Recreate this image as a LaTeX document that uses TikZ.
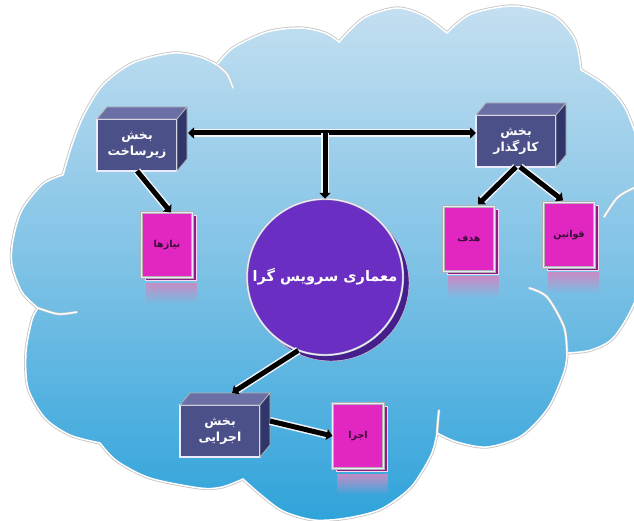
\documentclass[tikz,border=0pt]{standalone}
\usepackage{fontspec}
\usetikzlibrary{positioning,calc,arrows.meta,shadows,fadings}
\newfontfamily\fafont[Script=Arabic]{DejaVu Sans}
\TeXXeTstate=1
\newcommand{\fa}[1]{\beginR #1\endR}

\definecolor{cloudtop}{HTML}{C4DFF0}
\definecolor{cloudmid}{HTML}{7FC2E6}
\definecolor{cloudbot}{HTML}{2FA3DA}
\definecolor{navyfront}{HTML}{4B5089}
\definecolor{navytop}{HTML}{6A6FA6}
\definecolor{navyside}{HTML}{30356A}
\definecolor{magfront}{HTML}{E226C1}
\definecolor{magside}{HTML}{8C1C86}
\definecolor{magtext}{HTML}{3A0C38}
\definecolor{soafront}{HTML}{6A2EC2}
\definecolor{soarim}{HTML}{45208C}
\definecolor{glow}{HTML}{F2F4FA}

\begin{document}
\begin{tikzpicture}[
    x=1pt, y=-1pt,
    cloud/.style={top color=cloudtop, bottom color=cloudbot, middle color=cloudmid,
        draw=white, line width=1.5pt, preaction={draw=gray!45, line width=3.2pt}},
    rimline/.style={draw=white, line width=1.4pt, line cap=round,
        preaction={draw=gray!40, line width=2.6pt}},
    frame/.style={draw=gray!60, double=white!92!blue, double distance=1.3pt, line width=0.4pt},
    section/.style={frame, fill=navyfront, text=white, align=center, outer sep=0pt,
        minimum width=80pt, minimum height=52pt, inner sep=2pt,
        font=\fafont\bfseries\fontsize{12.5}{16}\selectfont},
    face/.style={draw=gray!60, line width=0.8pt},
    item/.style={frame, fill=magfront, text=magtext, outer sep=0pt,
        minimum width=51pt, minimum height=65pt, inner sep=1pt,
        font=\fafont\bfseries\fontsize{9.5}{11}\selectfont,
        copy shadow={shadow xshift=4pt, shadow yshift=-3pt, fill=magside, draw=white!85!magenta}},
    soa/.style={frame, circle, fill=soafront, text=white, minimum size=156pt, inner sep=0pt,
        font=\fafont\bfseries\fontsize{14.5}{17}\selectfont,
        copy shadow={shadow xshift=6pt, shadow yshift=-6pt, fill=soarim, draw=white!80!purple}},
    reflect/.style={fill=violet!45!white, path fading=south},
    conn/.style={line width=5pt, draw=black, preaction={draw=glow, line width=8pt}},
    tip/.style={-{Triangle[length=6pt,width=11pt]}}
]
    \useasboundingbox (0,0) rectangle (634,521);
    \fill[white] (0,0) rectangle (634,521);
    \clip (0,0) rectangle (634,521);

    % Cloud
    \path[cloud] plot[smooth] coordinates {(38,308) (22,292) (12,265) (13,240) (22,210) (43,184) (63,175)}
        -- plot[smooth] coordinates {(63,175) (72,145) (84,115) (103,85) (133,63) (173,53) (200,57) (217,65)}
        -- plot[smooth] coordinates {(217,65) (233,48) (267,32) (300,28) (325,33) (339,42)}
        -- plot[smooth] coordinates {(339,42) (364,18) (397,8) (424,16) (447,33)}
        -- plot[smooth] coordinates {(447,33) (471,14) (514,6) (554,16) (575,40) (581,70)}
        -- plot[smooth] coordinates {(581,70) (606,86) (626,110) (644,165) (648,235) (636,298) (614,337) (591,350) (567,353)}
        -- plot[smooth] coordinates {(567,353) (564,372) (548,408) (521,436) (487,447) (457,442) (437,433)}
        -- plot[smooth] coordinates {(437,433) (431,455) (411,487) (381,509) (347,518) (314,520) (283,511) (260,494) (243,479)}
        -- plot[smooth] coordinates {(243,479) (222,487) (200,488) (150,478) (117,461) (100,443)}
        -- plot[smooth] coordinates {(100,443) (70,435) (45,418) (28,388) (26,352) (32,320) (38,308)}
        -- cycle;
    \draw[rimline] plot[smooth] coordinates {(217,65) (227,74) (233,88)};
    \draw[rimline] plot[smooth] coordinates {(38,308) (58,314) (77,312)};
    \draw[rimline] plot[smooth] coordinates {(567,353) (564,327) (547,297) (529,288)};
    \draw[rimline] plot[smooth] coordinates {(437,433) (438,420) (439,410)};
    \draw[rimline] plot[smooth] coordinates {(604,217) (618,197) (636,187)};

    % Arrange nodes
    \node[section] (infra) at (137,145) {\fa{بخش}\\\fa{زیرساخت}};
    \node[section] (broker) at (516,141) {\fa{بخش}\\\fa{کارگذار}};
    \node[section] (exec) at (220,431) {\fa{بخش}\\\fa{اجرایی}};
    \node[soa] (arch) at (325,277) {\fa{معماری سرویس گرا}};
    \node[item] (needs) at (167,245) {\fa{نیازها}};
    \node[item] (goal) at (469,239) {\fa{هدف}};
    \node[item] (rules) at (569,235) {\fa{قوانین}};
    \node[item] (run) at (358,436) {\fa{اجرا}};

    % Box sides and reflections
    \foreach \b in {infra,broker,exec}{
        \filldraw[face, fill=navytop] (\b.north west) -- ++(10,-12) -- ($(\b.north east)+(10,-12)$) -- (\b.north east) -- cycle;
        \filldraw[face, fill=navyside] (\b.north east) -- ++(10,-12) -- ($(\b.south east)+(10,-12)$) -- (\b.south east) -- cycle;
    }
    \foreach \b in {needs,goal,rules,run}{
        \fill[reflect] ($(\b.south west)+(4,5)$) rectangle ($(\b.south east)+(4,26)$);
    }

    % Connectors
    \draw[conn, {Triangle[length=6pt,width=11pt]}-{Triangle[length=6pt,width=11pt]}]
        ($(infra.east)+(11,-12)$) coordinate (hl) -- (hl -| broker.west);
    \coordinate (mid) at (hl -| arch.north);
    \draw[conn, tip] (mid) -- (arch.north);
    \draw[conn, tip] (infra.south) -- ($(needs.north)+(4,0)$);
    \draw[conn, tip] (broker.south) -- ($(goal.north)+(9,-2)$);
    \draw[conn, tip] ($(broker.south)+(4,0)$) -- ($(rules.north)+(-6,-2)$);
    \draw[conn, tip] (arch.250) -- ($(exec.north)+(12,-12)$);
    \draw[conn, tip] ($(exec.east)+(10,-10)$) -- (run.west);
\end{tikzpicture}
\end{document}
